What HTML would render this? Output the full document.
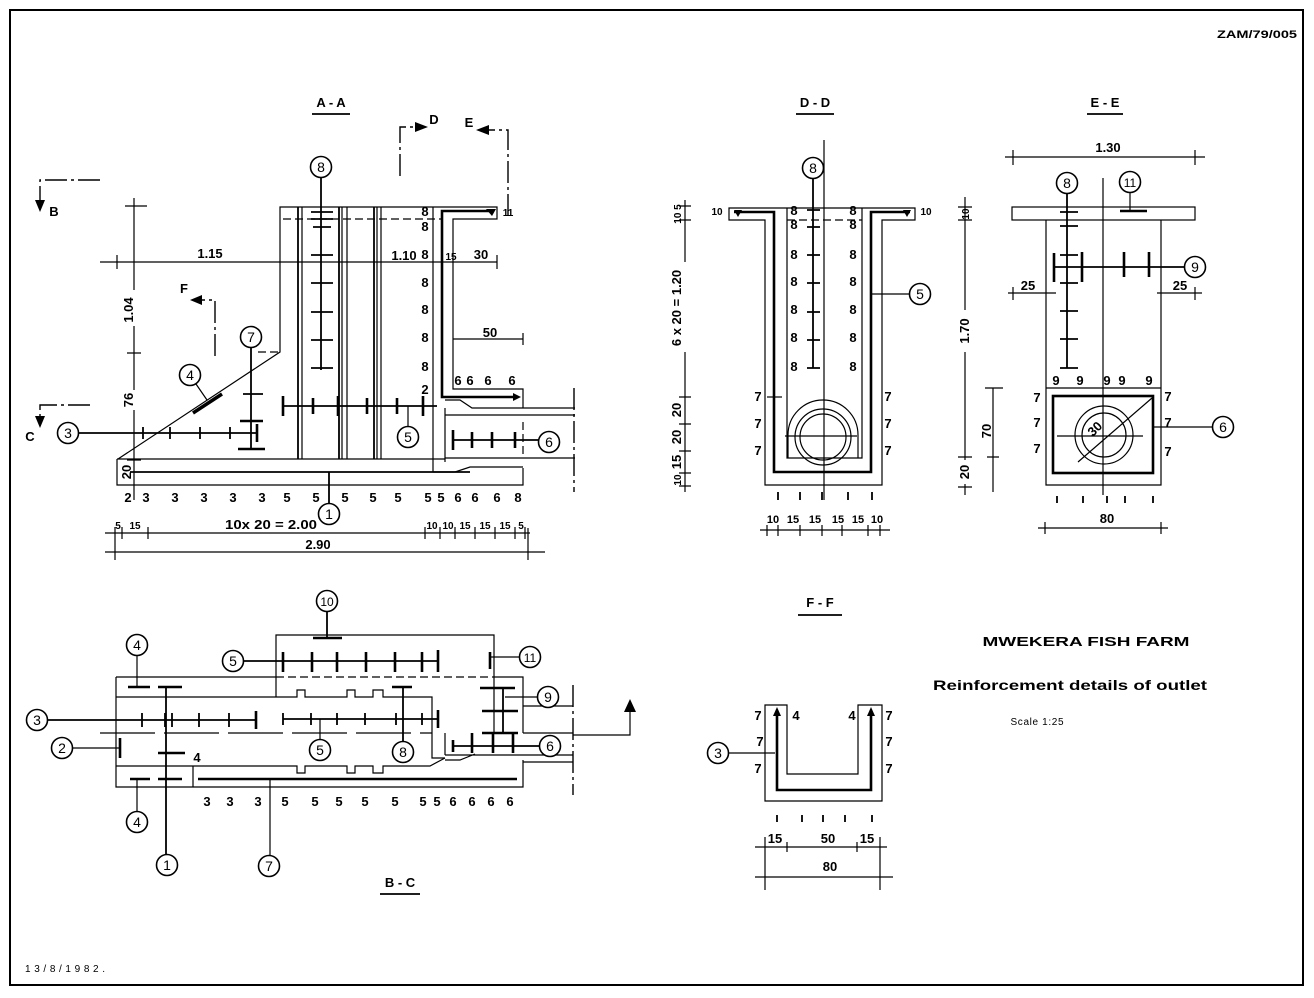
<!DOCTYPE html>
<html><head><meta charset="utf-8"><style>
html,body{margin:0;padding:0;background:#fff;}
svg{display:block}
text{font-family:"Liberation Sans",sans-serif;font-weight:bold;fill:#000}
.t{font-size:13px;text-anchor:middle}
.c{font-size:14px;text-anchor:middle;font-weight:normal}
.l{fill:none;stroke:#000;stroke-width:1.2}
.b{fill:none;stroke:#000;stroke-width:2.6}
.m{fill:none;stroke:#000;stroke-width:1.8}
.d{fill:none;stroke:#000;stroke-width:1.2;stroke-dasharray:8 4}
.dd{fill:none;stroke:#000;stroke-width:1.4;stroke-dasharray:22 4 3 4}
.ci{fill:#fff;stroke:#000;stroke-width:1.6}
</style></head><body>
<svg width="1314" height="998" viewBox="0 0 1314 998" xmlns="http://www.w3.org/2000/svg">
<rect x="10" y="10" width="1293" height="975" fill="none" stroke="#000" stroke-width="2"/>
<text x="1257" y="38" style="font-size:11px;text-anchor:middle" textLength="80" lengthAdjust="spacingAndGlyphs">ZAM/79/005</text>
<text x="25" y="972" style="font-size:10px;font-weight:normal" textLength="80" lengthAdjust="spacing">13/8/1982.</text>

<!-- ================= A-A ================= -->
<text class="t" x="331" y="107">A - A</text>
<path class="m" d="M312,114 H350"/>
<path class="dd" d="M100,180 H40 V202"/><polygon points="35,200 45,200 40,212"/><text class="t" x="54" y="216">B</text>
<path class="dd" d="M90,405 H40 V418"/><polygon points="35,416 45,416 40,428"/><text class="t" x="30" y="441">C</text>
<path class="dd" d="M215,356 V300 H200"/><polygon points="202,295 202,305 190,300"/><text class="t" x="184" y="293">F</text>
<path class="dd" d="M400,176 V127 H416"/><polygon points="415,122 415,132 428,127"/><text class="t" x="434" y="124">D</text>
<path class="dd" d="M508,216 V130 H488"/><polygon points="489,125 489,135 476,130"/><text class="t" x="469" y="127">E</text>

<path class="l" d="M117,459 H445 M117,459 V485 H523 V468 M118,459 L280,352 V207 H497 V219 H453 V389 H523 V408"/>
<path class="d" d="M258,352 H280"/>
<path class="d" d="M283,219 H442"/>
<path class="m" d="M298,207 V459 M339,207 V459 M374,207 V459"/>
<path class="l" d="M302,207 V459 M342,207 V459 M347,207 V459 M377,207 V459 M381,207 V459 M433,207 V472"/>
<path class="m" d="M130,472 H470"/>
<path class="b" d="M492,211 H442 V397 H516"/>
<polygon points="486,209 496,209 492,216"/><polygon points="513,393 513,401 521,397"/>
<path class="l" d="M445,400 H460 L472,408 H575 M445,415 H575 M445,408 V462 M445,458 H575 M433,472 H455 L470,467 H523"/>
<path class="dd" d="M574,388 V492"/>
<path class="d" d="M523,422 V456"/>
<path class="m" d="M453,440 H540"/><path class="b" d="M453,430 V450 M472,432 V448 M492,432 V448 M515,432 V448"/>
<circle class="ci" cx="549" cy="442" r="10.5"/><text class="c" x="549" y="447">6</text>
<path class="m" d="M283,406 H437"/>
<path class="b" d="M283,396 V416 M313,398 V414 M338,396 V416 M367,398 V414 M397,398 V414 M423,396 V416"/>
<path class="l" d="M408,406 V427"/>
<circle class="ci" cx="408" cy="437" r="10.5"/><text class="c" x="408" y="442">5</text>
<path class="m" d="M78,433 H257"/>
<path class="m" d="M143,427 V439 M170,427 V439 M200,427 V439 M230,427 V439"/><path class="b" d="M257,424 V442"/>
<circle class="ci" cx="68" cy="433" r="10.5"/><text class="c" x="68" y="438">3</text>
<path class="m" d="M251,347 V450"/>
<path class="m" d="M243,394 H263"/><path class="b" d="M240,421 H263 M238,449 H265"/>
<circle class="ci" cx="251" cy="337" r="10.5"/><text class="c" x="251" y="342">7</text>
<path style="fill:none;stroke:#000;stroke-width:3.5" d="M193,413 L222,394"/>
<path class="l" d="M196,384 L207,400"/>
<circle class="ci" cx="190" cy="375" r="10.5"/><text class="c" x="190" y="380">4</text>
<path class="m" d="M321,178 V370"/>
<path class="m" d="M311,212 H333 M311,219 H333 M313,227 H331 M311,255 H333 M311,283 H333 M311,312 H333 M311,340 H333 M311,368 H333"/>
<circle class="ci" cx="321" cy="167" r="10.5"/><text class="c" x="321" y="172">8</text>
<path class="m" d="M329,472 V504"/>
<circle class="ci" cx="329" cy="514" r="10.5"/><text class="c" x="329" y="519">1</text>
<path class="l" d="M134,198 V290 M134,326 V390 M134,410 V500 M125,206 H147 M127,353 H141 M127,460 H141 M100,262 H497 M117,255 V269 M497,255 V269 M453,339 H523 M523,333 V345"/>
<text class="t" transform="translate(133,310) rotate(-90)">1.04</text>
<text class="t" transform="translate(133,400) rotate(-90)">76</text>
<text class="t" transform="translate(131,472) rotate(-90)">20</text>
<text class="t" x="210" y="258">1.15</text>
<text class="t" x="404" y="260">1.10</text>
<text class="t" x="451" y="260" style="font-size:10px">15</text>
<text class="t" x="481" y="259">30</text>
<text class="t" x="490" y="337">50</text>
<text class="t" x="425" y="216">8</text><text class="t" x="425" y="231">8</text><text class="t" x="425" y="259">8</text><text class="t" x="425" y="287">8</text><text class="t" x="425" y="314">8</text><text class="t" x="425" y="342">8</text><text class="t" x="425" y="371">8</text><text class="t" x="425" y="394">2</text>
<text class="t" x="458" y="385">6</text><text class="t" x="470" y="385">6</text><text class="t" x="488" y="385">6</text><text class="t" x="512" y="385">6</text>
<text class="t" x="128" y="502">2</text><text class="t" x="146" y="502">3</text><text class="t" x="175" y="502">3</text><text class="t" x="204" y="502">3</text><text class="t" x="233" y="502">3</text><text class="t" x="262" y="502">3</text><text class="t" x="287" y="502">5</text><text class="t" x="316" y="502">5</text><text class="t" x="345" y="502">5</text><text class="t" x="373" y="502">5</text><text class="t" x="398" y="502">5</text><text class="t" x="428" y="502">5</text><text class="t" x="441" y="502">5</text><text class="t" x="458" y="502">6</text><text class="t" x="475" y="502">6</text><text class="t" x="497" y="502">6</text><text class="t" x="518" y="502">8</text>
<path class="l" d="M105,533 H530 M115,527 V539 M122,527 V539 M148,527 V539 M425,527 V539 M440,527 V539 M455,527 V539 M475,527 V539 M495,527 V539 M515,527 V539 M525,527 V539 M105,552 H545 M115,528 V560 M528,528 V560"/>
<text class="t" x="118" y="529" style="font-size:10px">5</text><text class="t" x="135" y="529" style="font-size:10px">15</text>
<text class="t" x="271" y="529" textLength="92" lengthAdjust="spacingAndGlyphs">10x 20 = 2.00</text>
<text class="t" x="432" y="529" style="font-size:10px">10</text><text class="t" x="448" y="529" style="font-size:10px">10</text><text class="t" x="465" y="529" style="font-size:10px">15</text><text class="t" x="485" y="529" style="font-size:10px">15</text><text class="t" x="505" y="529" style="font-size:10px">15</text><text class="t" x="521" y="529" style="font-size:10px">5</text>
<text class="t" x="318" y="549" style="font-size:13px">2.90</text>
<text class="t" x="508" y="216" style="font-size:10px">11</text>

<!-- ================= B-C ================= -->
<path class="l" d="M276,697 V635 H494 V733 M116,677 H276 M493,677 H523 V733 M116,677 V787 H523 V760"/>
<path class="d" d="M276,677 H493"/>
<path class="l" d="M116,697 H297 V690 H305 V697 H347 V690 H355 V697 H373 V690 H383 V697 H432 V758 H445 M445,733 V755"/>
<path class="l" d="M116,766 H297 V773 H305 V766 H347 V773 H355 V766 H373 V773 H383 V766 H430 L445,758 M445,755 H573 M445,760 H460 L475,754 M193,766 V787 M523,733 H573 M523,762 H573 M523,706 H573"/>
<path class="dd" d="M573,685 V795"/>
<path class="l" d="M573,735 H630 V710"/><polygon points="624,712 636,712 630,699"/>
<path class="d" style="stroke-dasharray:55 9" d="M100,733 H432"/>
<path class="m" d="M47,720 H257"/>
<path class="m" d="M142,713 V727 M165,713 V727 M172,713 V727 M199,713 V727 M229,713 V727"/><path class="b" d="M256,711 V729"/>
<circle class="ci" cx="37" cy="720" r="10.5"/><text class="c" x="37" y="725">3</text>
<path class="m" d="M283,719 H438"/>
<path class="m" d="M283,713 V725 M311,713 V725 M337,713 V725 M365,713 V725 M396,713 V725 M422,713 V725"/><path class="b" d="M438,710 V728"/>
<path class="l" d="M320,719 V740"/>
<circle class="ci" cx="320" cy="750" r="10.5"/><text class="c" x="320" y="755">5</text>
<path class="m" d="M244,661 H438"/>
<path class="b" d="M283,652 V672 M312,652 V672 M337,652 V672 M366,652 V672 M395,652 V672 M422,652 V672 M438,650 V672"/>
<circle class="ci" cx="233" cy="661" r="10.5"/><text class="c" x="233" y="666">5</text>
<path class="m" d="M327,611 V638"/><path class="b" d="M313,638 H342"/>
<circle class="ci" cx="327" cy="601" r="10.5"/><text class="c" x="327" y="606" style="font-size:12px">10</text>
<path class="l" d="M520,657 H490"/><path class="b" d="M490,652 V669"/>
<circle class="ci" cx="530" cy="657" r="10.5"/><text class="c" x="530" y="662" style="font-size:12px">11</text>
<path class="l" d="M137,655 V687"/><path class="b" d="M128,687 H150"/>
<circle class="ci" cx="137" cy="645" r="10.5"/><text class="c" x="137" y="650">4</text>
<path class="l" d="M137,779 V812"/><path class="b" d="M130,779 H150"/>
<circle class="ci" cx="137" cy="822" r="10.5"/><text class="c" x="137" y="827">4</text>
<path class="m" d="M166,687 V855"/><path class="b" d="M158,687 H182 M158,753 H185 M158,779 H182"/>
<circle class="ci" cx="167" cy="865" r="10.5"/><text class="c" x="167" y="870">1</text>
<text class="t" x="197" y="762">4</text>
<path class="l" d="M72,748 H120"/><path class="b" d="M120,738 V758"/>
<circle class="ci" cx="62" cy="748" r="10.5"/><text class="c" x="62" y="753">2</text>
<path class="b" d="M198,779 H517"/><path class="l" d="M270,779 V856"/>
<circle class="ci" cx="269" cy="866" r="10.5"/><text class="c" x="269" y="871">7</text>
<path class="m" d="M403,687 V742"/><path class="b" d="M392,687 H412"/>
<circle class="ci" cx="403" cy="752" r="10.5"/><text class="c" x="403" y="757">8</text>
<path class="m" d="M503,688 V732"/><path class="b" d="M480,688 H515 M482,711 H518 M482,733 H518"/>
<path class="l" d="M505,697 H538"/>
<circle class="ci" cx="548" cy="697" r="10.5"/><text class="c" x="548" y="702">9</text>
<path class="m" d="M453,746 H540"/><path class="b" d="M453,740 V752 M472,733 V753 M493,733 V753 M513,733 V753"/>
<circle class="ci" cx="550" cy="746" r="10.5"/><text class="c" x="550" y="751">6</text>
<text class="t" x="207" y="806">3</text><text class="t" x="230" y="806">3</text><text class="t" x="258" y="806">3</text><text class="t" x="285" y="806">5</text><text class="t" x="315" y="806">5</text><text class="t" x="339" y="806">5</text><text class="t" x="365" y="806">5</text><text class="t" x="395" y="806">5</text><text class="t" x="423" y="806">5</text><text class="t" x="437" y="806">5</text><text class="t" x="453" y="806">6</text><text class="t" x="472" y="806">6</text><text class="t" x="491" y="806">6</text><text class="t" x="510" y="806">6</text>
<text class="t" x="400" y="887">B - C</text>
<path class="m" d="M380,894 H420"/>

<!-- ================= D-D ================= -->
<text class="t" x="815" y="107">D - D</text>
<path class="m" d="M796,114 H834"/>
<path class="l" d="M729,208 H915 V220 H882 V485 H765 V220 H729 Z"/>
<path class="l" d="M787,208 V458 H862 V208"/>
<path class="d" d="M787,220 H862"/>
<path class="b" d="M734,212 H774 V472 H871 V212 H910"/>
<polygon points="734,210 742,210 738,217"/><polygon points="903,210 911,210 907,217"/>
<path class="l" d="M788,458 V435 A35,35 0 0 1 858,435 V458"/>
<circle class="l" cx="823" cy="437" r="28"/><circle class="l" cx="823" cy="437" r="23"/>
<path class="l" d="M824,140 V500 M785,436 H857"/>
<path class="m" d="M813,178 V368"/>
<path class="m" d="M807,210 H820 M807,227 H820 M807,255 H820 M807,283 H820 M807,312 H820 M807,340 H820 M807,368 H820"/>
<circle class="ci" cx="813" cy="168" r="10.5"/><text class="c" x="813" y="173">8</text>
<text class="t" x="794" y="215">8</text><text class="t" x="794" y="229">8</text><text class="t" x="794" y="259">8</text><text class="t" x="794" y="286">8</text><text class="t" x="794" y="314">8</text><text class="t" x="794" y="342">8</text><text class="t" x="794" y="371">8</text>
<text class="t" x="853" y="215">8</text><text class="t" x="853" y="229">8</text><text class="t" x="853" y="259">8</text><text class="t" x="853" y="286">8</text><text class="t" x="853" y="314">8</text><text class="t" x="853" y="342">8</text><text class="t" x="853" y="371">8</text>
<text class="t" x="717" y="215" style="font-size:10px">10</text><text class="t" x="926" y="215" style="font-size:10px">10</text>
<text class="t" x="758" y="401">7</text><text class="t" x="758" y="428">7</text><text class="t" x="758" y="455">7</text>
<text class="t" x="888" y="401">7</text><text class="t" x="888" y="428">7</text><text class="t" x="888" y="455">7</text>
<path class="l" d="M767,397 H782"/>
<path class="l" d="M872,294 H910"/>
<circle class="ci" cx="920" cy="294" r="10.5"/><text class="c" x="920" y="299">5</text>
<path class="l" d="M685,200 V262 M685,352 V492 M679,206 H691 M679,220 H691 M679,397 H691 M679,424 H691 M679,451 H691 M679,473 H691 M679,486 H691"/>
<text class="t" transform="translate(681,214) rotate(-90)" style="font-size:10px">10 5</text>
<text class="t" transform="translate(681,308) rotate(-90)">6 x 20 = 1.20</text>
<text class="t" transform="translate(681,410) rotate(-90)">20</text>
<text class="t" transform="translate(681,437) rotate(-90)">20</text>
<text class="t" transform="translate(681,462) rotate(-90)">15</text>
<text class="t" transform="translate(681,480) rotate(-90)" style="font-size:10px">10</text>
<path class="m" d="M778,492 V500 M800,492 V500 M822,492 V500 M848,492 V500 M872,492 V500"/>
<text class="t" x="773" y="523" style="font-size:11px">10</text><text class="t" x="793" y="523" style="font-size:11px">15</text><text class="t" x="815" y="523" style="font-size:11px">15</text><text class="t" x="838" y="523" style="font-size:11px">15</text><text class="t" x="858" y="523" style="font-size:11px">15</text><text class="t" x="877" y="523" style="font-size:11px">10</text>
<path class="l" d="M760,530 H890 M767,525 V536 M778,525 V536 M800,525 V536 M822,525 V536 M842,525 V536 M868,525 V536 M880,525 V536"/>

<!-- ================= E-E ================= -->
<text class="t" x="1105" y="107">E - E</text>
<path class="m" d="M1087,114 H1123"/>
<path class="l" d="M1005,157 H1205 M1013,150 V165 M1195,150 V165"/>
<text class="t" x="1108" y="152">1.30</text>
<rect class="l" x="1012" y="207" width="183" height="13"/>
<path class="l" d="M1046,220 V485 H1161 V220 M1046,388 H1161"/>
<rect class="b" x="1053" y="396" width="100" height="77"/>
<path class="l" d="M1103,178 V495"/>
<path class="m" d="M1067,193 V368"/>
<path class="m" d="M1060,212 H1078 M1060,226 H1078 M1060,255 H1078 M1060,283 H1078 M1060,311 H1078 M1060,339 H1078 M1060,368 H1078"/>
<circle class="ci" cx="1067" cy="183" r="10.5"/><text class="c" x="1067" y="188">8</text>
<path class="l" d="M1130,192 V210"/><path class="b" d="M1120,211 H1147"/>
<circle class="ci" cx="1130" cy="182" r="10.5"/><text class="c" x="1130" y="187" style="font-size:12px">11</text>
<path class="m" d="M1054,267 H1185"/>
<path class="b" d="M1054,253 V282 M1082,252 V282 M1124,252 V277 M1149,252 V277"/>
<circle class="ci" cx="1195" cy="267" r="10.5"/><text class="c" x="1195" y="272">9</text>
<path class="l" d="M1008,293 H1056 M1013,287 V300 M1157,293 H1202 M1195,287 V300"/>
<text class="t" x="1028" y="290">25</text><text class="t" x="1180" y="290">25</text>
<path class="l" d="M965,197 V310 M965,352 V460 M965,484 V495 M958,207 H972 M958,220 H972 M958,457 H972 M958,487 H972 M993,388 V492 M985,388 H1003 M987,457 H999"/>
<text class="t" transform="translate(969,214) rotate(-90)" style="font-size:10px">10</text>
<text class="t" transform="translate(969,331) rotate(-90)">1.70</text>
<text class="t" transform="translate(969,472) rotate(-90)">20</text>
<text class="t" transform="translate(991,431) rotate(-90)">70</text>
<text class="t" x="1056" y="385">9</text><text class="t" x="1080" y="385">9</text><text class="t" x="1107" y="385">9</text><text class="t" x="1122" y="385">9</text><text class="t" x="1149" y="385">9</text>
<text class="t" x="1037" y="402">7</text><text class="t" x="1037" y="427">7</text><text class="t" x="1037" y="453">7</text>
<text class="t" x="1168" y="401">7</text><text class="t" x="1168" y="427">7</text><text class="t" x="1168" y="456">7</text>
<circle class="l" cx="1104" cy="435" r="29"/><circle class="l" cx="1104" cy="435" r="22"/>
<path class="l" d="M1057,436 H1143 M1078,462 L1152,398"/>
<text class="t" transform="translate(1098,432) rotate(-45)">30</text>
<path class="l" d="M1154,427 H1213"/>
<circle class="ci" cx="1223" cy="427" r="10.5"/><text class="c" x="1223" y="432">6</text>
<path class="m" d="M1057,496 V503 M1083,496 V503 M1107,496 V503 M1125,496 V503 M1153,496 V503"/>
<text class="t" x="1107" y="523">80</text>
<path class="l" d="M1038,528 H1168 M1045,522 V534 M1161,522 V534"/>

<!-- ================= F-F ================= -->
<text class="t" x="820" y="607">F - F</text>
<path class="m" d="M798,615 H842"/>
<path class="l" d="M765,705 V801 H882 V705 H858 V774 H787 V705 Z"/>
<path class="b" d="M777,714 V790 H871 V714"/>
<polygon points="773,716 781,716 777,707"/><polygon points="867,716 875,716 871,707"/>
<text class="t" x="758" y="720">7</text><text class="t" x="760" y="746">7</text><text class="t" x="758" y="773">7</text>
<text class="t" x="889" y="720">7</text><text class="t" x="889" y="746">7</text><text class="t" x="889" y="773">7</text>
<text class="t" x="796" y="720">4</text><text class="t" x="852" y="720">4</text>
<path class="l" d="M728,753 H775"/>
<circle class="ci" cx="718" cy="753" r="10.5"/><text class="c" x="718" y="758">3</text>
<path class="m" d="M777,815 V822 M802,815 V822 M823,815 V822 M845,815 V822 M872,815 V822"/>
<text class="t" x="775" y="843">15</text><text class="t" x="828" y="843">50</text><text class="t" x="867" y="843">15</text>
<path class="l" d="M755,847 H887 M765,842 V852 M787,842 V852 M857,842 V852 M880,842 V852 M755,877 H893 M765,837 V890 M880,837 V890"/>
<text class="t" x="830" y="871">80</text>

<!-- ================= Title ================= -->
<text x="1086" y="646" style="font-size:13px;text-anchor:middle" textLength="207" lengthAdjust="spacingAndGlyphs">MWEKERA   FISH   FARM</text>
<text x="1070" y="690" style="font-size:14px;text-anchor:middle" textLength="274" lengthAdjust="spacingAndGlyphs">Reinforcement details  of  outlet</text>
<text x="1037" y="725" style="font-size:10px;text-anchor:middle;font-weight:normal" textLength="53" lengthAdjust="spacing">Scale 1:25</text>
</svg>
</body></html>
